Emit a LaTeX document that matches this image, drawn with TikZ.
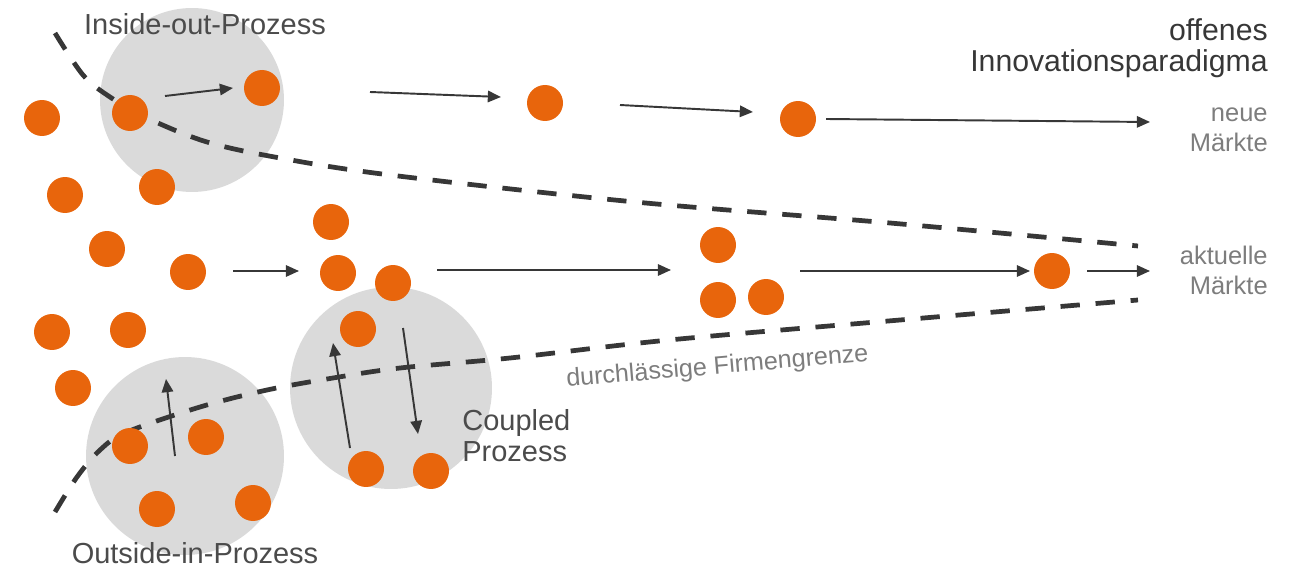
\documentclass[tikz,border=0pt]{standalone}
\usepackage{fontspec}
\setmainfont{Liberation Sans}
\usetikzlibrary{arrows.meta}
\definecolor{dotorange}{RGB}{232,101,12}
\definecolor{zone}{RGB}{218,218,218}
\definecolor{ink}{RGB}{55,55,55}
\definecolor{labeldark}{RGB}{75,75,75}
\definecolor{labellight}{RGB}{125,125,125}
\begin{document}
\begin{tikzpicture}[x=0.02cm,y=-0.02cm,
  dot/.style={circle,fill=dotorange,minimum size=0.72cm,inner sep=0pt},
  zonecirc/.style={circle,fill=zone,inner sep=0pt},
  flow/.style={draw=ink,line width=1.1pt,-{Triangle[length=7.5pt,width=6.5pt]}},
  fence/.style={draw=ink,line width=2.7pt,dash pattern=on 11pt off 9pt},
  proc/.style={text=labeldark,font=\fontsize{16.5}{17.6}\selectfont,inner sep=0pt},
  market/.style={text=labellight,font=\fontsize{14.5}{17.5}\selectfont,inner sep=0pt,anchor=base east,align=right}]
\useasboundingbox (0,0) rectangle (1290,567);

% grey process zones
\node[zonecirc,minimum size=3.68cm] (inout) at (192,100) {};
\node[zonecirc,minimum size=3.96cm] (outin) at (185,456) {};
\node[zonecirc,minimum size=4.04cm] (coupled) at (391,388) {};

% permeable company boundary
\draw[fence] plot[smooth,tension=0.55] coordinates {(55,33) (83,75) (110,97) (147,118) (207,142) (280,158) (390,175) (635,202) (890,223) (1138,246)};
\draw[fence] plot[smooth,tension=0.55] coordinates {(55,512) (77,477) (100,450) (127,432) (200,407) (267,390) (333,378) (400,368) (510,358) (669,340) (900,320) (1138,300)};

% dots
\node[dot] (d1) at (42,118) {};
\node[dot] (d2) at (130,113) {};
\node[dot] (d3) at (262,88) {};
\node[dot] (d4) at (545,103) {};
\node[dot] (d5) at (798,119) {};
\node[dot] (d6) at (65,195) {};
\node[dot] (d7) at (157,187) {};
\node[dot] (d8) at (331,222) {};
\node[dot] (d9) at (107,249) {};
\node[dot] (d10) at (188,272) {};
\node[dot] (d11) at (338,273) {};
\node[dot] (d12) at (393,283) {};
\node[dot] (d13) at (718,245) {};
\node[dot] (d14) at (718,300) {};
\node[dot] (d15) at (766,297) {};
\node[dot] (d16) at (1052,271) {};
\node[dot] (d17) at (52,332) {};
\node[dot] (d18) at (128,330) {};
\node[dot] (d19) at (358,329) {};
\node[dot] (d20) at (73,388) {};
\node[dot] (d21) at (130,446) {};
\node[dot] (d22) at (206,437) {};
\node[dot] (d23) at (157,509) {};
\node[dot] (d24) at (253,503) {};
\node[dot] (d25) at (366,469) {};
\node[dot] (d26) at (431,471) {};

% arrow end points
\coordinate (a1s) at (165,96);  \coordinate (a1e) at (233,88);
\coordinate (a2s) at (370,92);  \coordinate (a2e) at (501,97);
\coordinate (a3s) at (620,105); \coordinate (a3e) at (753,112);
\coordinate (a4s) at (826,119); \coordinate (a4e) at (1150,122);
\coordinate (b1s) at (233,271); \coordinate (b1e) at (299,271);
\coordinate (b2s) at (437,270); \coordinate (b2e) at (671,270);
\coordinate (b3s) at (800,271); \coordinate (b3e) at (1030,271);
\coordinate (b4s) at (1087,271);\coordinate (b4e) at (1150,271);
\coordinate (c1s) at (175,456); \coordinate (c1e) at (166,379);
\coordinate (c2s) at (350,448); \coordinate (c2e) at (333,343);
\coordinate (c3s) at (403,328); \coordinate (c3e) at (418,434);

\draw[flow] (a1s) -- (a1e);
\draw[flow] (a2s) -- (a2e);
\draw[flow] (a3s) -- (a3e);
\draw[flow] (a4s) -- (a4e);
\draw[flow] (b1s) -- (b1e);
\draw[flow] (b2s) -- (b2e);
\draw[flow] (b3s) -- (b3e);
\draw[flow] (b4s) -- (b4e);
\draw[flow] (c1s) -- (c1e);
\draw[flow] (c2s) -- (c2e);
\draw[flow] (c3s) -- (c3e);

% labels (multi-line nodes: base = baseline of last line)
\node[proc,anchor=base] (linout) at (205,35) {Inside-out-Prozess};
\node[proc,anchor=base] (loutin) at (195,563) {Outside-in-Prozess};
\node[proc,anchor=base west,align=left] (lcoupled) at (462,461) {Coupled\\Prozess};
\node[text=ink,font=\fontsize{17.2}{18.2}\selectfont,inner sep=0pt,anchor=base east,align=right] (lparadigm) at (1268,72) {offenes\\Innovationsparadigma};
\node[market] (lneu) at (1268,152) {neue\\Märkte};
\node[market] (lakt) at (1268,295) {aktuelle\\Märkte};
\node[text=labellight,font=\fontsize{14.3}{17}\selectfont,inner sep=0pt,anchor=base,rotate=4.9] (lfence) at (718,374) {durchlässige Firmengrenze};
\end{tikzpicture}
\end{document}
